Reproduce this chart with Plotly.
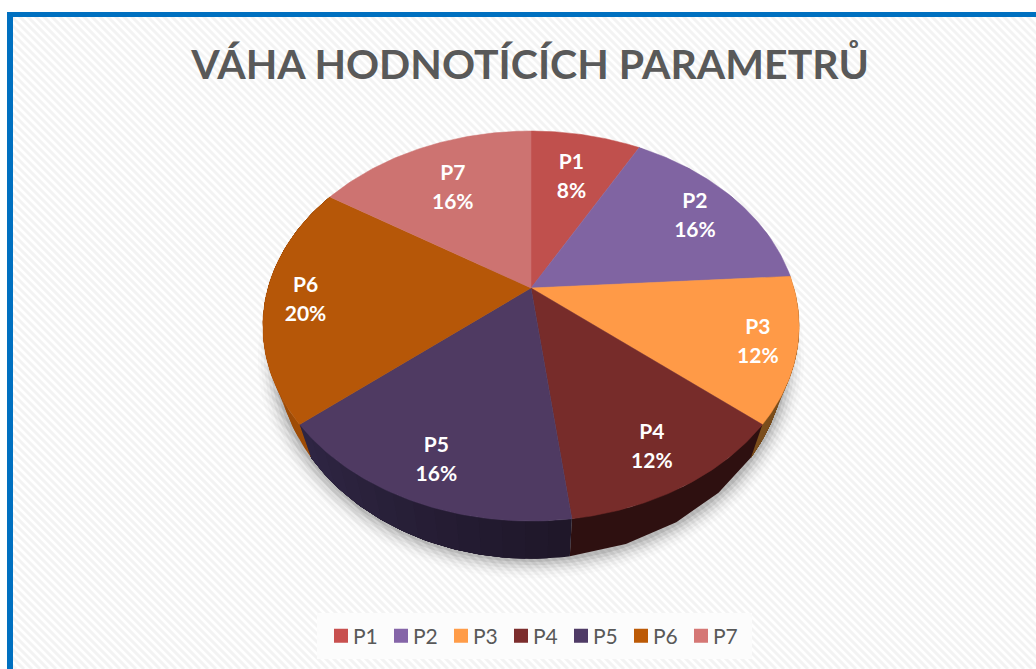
import math
import plotly.graph_objects as go

# data
categories = ["P1", "P2", "P3", "P4", "P5", "P6", "P7"]
values = [8, 16, 12, 12, 16, 20, 16]
top_colors = ["#C0504D", "#8064A2", "#FF9A47", "#772C2A", "#4F3A62", "#B65708", "#CD7371"]
legend_colors = ["#C8504F", "#8565A8", "#FF9C48", "#7C2D2D", "#4F3B66", "#BC5A06", "#D57775"]
wall_start = ["#7A3230", "#54426C", "#6B4318", "#2E1010", "#1E1628", "#A04C06", "#8A4C4B"]
wall_end = ["#7A3230", "#54426C", "#7C4E1C", "#2E1010", "#2F2644", "#8F4405", "#8A4C4B"]
label_radius = [0.70, 0.80, 0.86, 0.82, 0.83, 0.85, 0.69]

W, H = 1036, 669
CX, CY = 531, 288
A, B, C = 263, 187.6, 0.195      # top face perspective
A2, B2, DROP = 250, 197, 26      # lower rim


def top(t, r=1.0):
    u, v = r * math.sin(t), r * math.cos(t)
    d = 1 + C * v
    return CX + A * u / d, CY - B * v / d


def rim(t, grow=0.0, down=0.0):
    u, v = math.sin(t), math.cos(t)
    d = 1 + C * v
    return CX + (A2 + grow) * u / d, CY + DROP + down - (B2 + grow * 0.8) * v / d


def frange(a, b, n):
    return [a + (b - a) * i / n for i in range(n + 1)]


def mix(c1, c2, f):
    p = [int(c1[i:i + 2], 16) for i in (1, 3, 5)]
    q = [int(c2[i:i + 2], 16) for i in (1, 3, 5)]
    return "#%02x%02x%02x" % tuple(round(a + (b - a) * f) for a, b in zip(p, q))


total = sum(values)
starts, cum = [], 0
for v in values:
    starts.append(cum / total * 2 * math.pi)
    cum += v
ends = starts[1:] + [2 * math.pi]

fig = go.Figure()

# soft shadow under the disc
for grow, alpha in [(18, 0.015), (15, 0.025), (12, 0.035), (9, 0.05), (6, 0.07), (3, 0.09)]:
    pts = [rim(t, grow, grow * 0.1) for t in frange(math.pi * 0.42, math.pi * 1.58, 90)]
    fig.add_trace(go.Scatter(x=[p[0] for p in pts], y=[p[1] for p in pts], mode="lines",
                             line=dict(width=0), fill="toself", fillcolor=f"rgba(0,0,0,{alpha})",
                             showlegend=False, hoverinfo="skip"))

# side walls (each step overlaps the next one so no seams show)
for i, name in enumerate(categories):
    s, e = starts[i], ends[i]
    if e < math.pi * 0.45 or s > math.pi * 1.55:
        continue
    n = 1 if wall_start[i] == wall_end[i] else 14
    ts = frange(s, e, n)
    for k in range(n):
        col = mix(wall_start[i], wall_end[i], (k + 0.5) / n)
        arc = frange(ts[k], e, max(4, 4 * (n - k)))
        pts = [top(t) for t in arc] + [rim(t) for t in reversed(arc)]
        fig.add_trace(go.Scatter(x=[p[0] for p in pts], y=[p[1] for p in pts], mode="lines",
                                 line=dict(width=0), fill="toself", fillcolor=col,
                                 showlegend=False, hoverinfo="skip"))

# top faces
for i, name in enumerate(categories):
    arc = frange(starts[i], ends[i], 60)
    pts = [(CX, CY)] + [top(t) for t in arc] + [(CX, CY)]
    fig.add_trace(go.Scatter(x=[p[0] for p in pts], y=[p[1] for p in pts], mode="lines",
                             line=dict(width=0.5, color=top_colors[i]), fill="toself",
                             fillcolor=top_colors[i], name=name, showlegend=False,
                             hovertemplate=f"{name}: {values[i]}%<extra></extra>"))

# labels: name above, percentage below
LABEL_DOWN, LINE_GAP = 3, 14.5
lx, ly = [], []
for i, name in enumerate(categories):
    x, y = top((starts[i] + ends[i]) / 2, label_radius[i])
    lx.append(x)
    ly.append(y + LABEL_DOWN)
fig.add_trace(go.Scatter(x=lx, y=[y - LINE_GAP for y in ly], mode="text",
                         text=[f"<b>{c}</b>" for c in categories], textposition="middle center",
                         textfont=dict(family="Lato", size=21, color="#FFFFFF"),
                         showlegend=False, hoverinfo="skip"))
fig.add_trace(go.Scatter(x=lx, y=[y + LINE_GAP for y in ly], mode="text",
                         text=[f"<b>{v}%</b>" for v in values], textposition="middle center",
                         textfont=dict(family="Lato", size=21, color="#FFFFFF"),
                         showlegend=False, hoverinfo="skip"))

# legend entries
for i, name in enumerate(categories):
    fig.add_trace(go.Scatter(x=[None], y=[None], mode="markers", name=name,
                             marker=dict(symbol="square", size=14, color=legend_colors[i])))

# diagonal hatch background
seg = []
for off in range(-H, W + 8, 8):
    seg.append(f"M{off},0 L{off + H},{H}")
shapes = [
    dict(type="path", path=" ".join(seg), xref="x", yref="y", layer="below",
         line=dict(color="#F3F3F3", width=3)),
    dict(type="rect", x0=0, x1=W, y0=0, y1=12, xref="x", yref="y", layer="below",
         fillcolor="#FFFFFF", line_width=0),
    dict(type="rect", x0=0, x1=7, y0=0, y1=H, xref="x", yref="y", layer="below",
         fillcolor="#FFFFFF", line_width=0),
    dict(type="rect", x0=7, x1=W, y0=12, y1=17, xref="x", yref="y", layer="below",
         fillcolor="#0070C0", line_width=0),
    dict(type="rect", x0=7, x1=13, y0=12, y1=H, xref="x", yref="y", layer="below",
         fillcolor="#0070C0", line_width=0),
    dict(type="rect", x0=317, x1=W - 284, y0=613, y1=659, xref="x", yref="y", layer="below",
         fillcolor="#FCFCFC", line_width=0),
]

fig.update_layout(
    width=W, height=H, margin=dict(l=0, r=0, t=0, b=0),
    paper_bgcolor="#FFFFFF", plot_bgcolor="#FFFFFF",
    xaxis=dict(range=[0, W], visible=False, fixedrange=True),
    yaxis=dict(range=[H, 0], visible=False, fixedrange=True),
    shapes=shapes,
    title=dict(text="<b>VÁHA HODNOTÍCÍCH PARAMETRŮ</b>", x=530 / W, xanchor="center",
               y=1 - 65 / H, yanchor="middle",
               font=dict(family="Lato", size=41, color="#595959")),
    legend=dict(orientation="h", x=321 / W, y=1 - 636 / H, yanchor="middle", xanchor="left",
                bgcolor="rgba(0,0,0,0)", font=dict(family="Lato", size=21, color="#595959"),
                itemwidth=30, entrywidth=15, entrywidthmode="pixels",
                traceorder="normal", itemclick=False, itemdoubleclick=False),
    showlegend=True,
)

post = """
document.body.style.margin='0';document.body.style.overflow='hidden';
document.querySelectorAll('.legendtext').forEach(function(t){
  t.setAttribute('x', parseFloat(t.getAttribute('x')) - 8);
});
"""
fig.write_html("out.html", post_script=post, config={"displayModeBar": False})
